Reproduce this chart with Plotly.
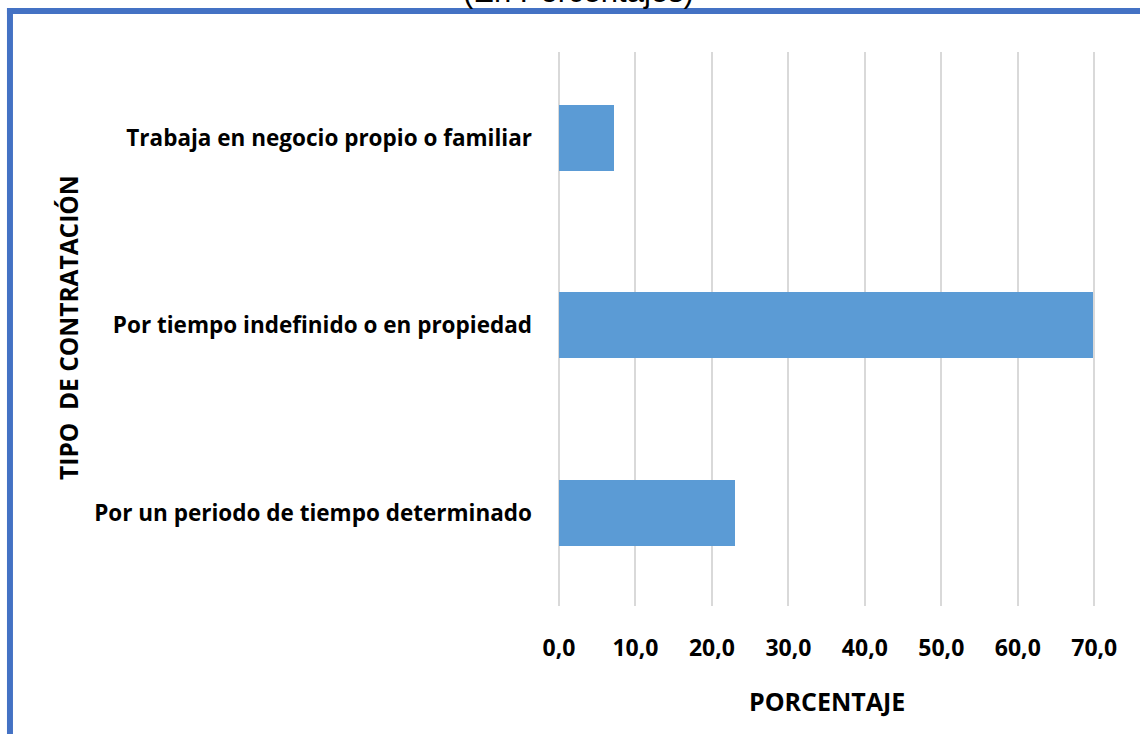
import plotly.graph_objects as go

# Tipo de contratación (porcentajes)
categorias = [
    "Por un periodo de tiempo determinado",
    "Por tiempo indefinido o en propiedad",
    "Trabaja en negocio propio o familiar",
]
porcentajes = [23.0, 69.8, 7.2]
x_ticks = [0, 10, 20, 30, 40, 50, 60, 70]

W, H = 1140, 734
L, R, T, B = 558.5, 0, 52, 128
pw, ph = W - L - R, H - T - B


def px_x(p):
    return (p - L) / pw


def px_y(q):
    return (H - B - q) / ph


BLUE_BORDER = "#4472C4"
BAR = "#5B9BD5"
GRID = "#D9D9D9"
FONT = "Open Sans"

fig = go.Figure(
    go.Bar(
        y=categorias,
        x=porcentajes,
        orientation="h",
        marker=dict(color=BAR, line=dict(width=0)),
        width=0.352,
    )
)

fig.update_layout(
    width=W,
    height=H,
    margin=dict(l=L, r=R, t=T, b=B),
    paper_bgcolor="white",
    plot_bgcolor="white",
    separators=",.",
    showlegend=False,
    bargap=0,
    xaxis=dict(
        range=[0, (W - L) / 7.653],
        tickvals=x_ticks,
        tickformat=".1f",
        showgrid=True,
        gridcolor=GRID,
        gridwidth=2,
        zeroline=True,
        zerolinecolor=GRID,
        zerolinewidth=2,
        showline=False,
        ticks="",
        ticklabelstandoff=26,
        tickfont=dict(family=FONT, size=23, color="black", weight="bold"),
    ),
    yaxis=dict(
        type="category",
        range=[-0.497, 2.459],
        showgrid=False,
        zeroline=False,
        showline=False,
        ticks="",
        ticklabelstandoff=26,
        tickfont=dict(family=FONT, size=22.5, color="black", weight="bold"),
    ),
    shapes=[
        # marco azul superior e izquierdo
        dict(type="rect", xref="paper", yref="paper",
             x0=px_x(6), x1=px_x(W + 5), y0=px_y(14), y1=px_y(8),
             fillcolor=BLUE_BORDER, line=dict(width=0), layer="above"),
        dict(type="rect", xref="paper", yref="paper",
             x0=px_x(6), x1=px_x(12), y0=px_y(H + 5), y1=px_y(8),
             fillcolor=BLUE_BORDER, line=dict(width=0), layer="above"),
    ],
    annotations=[
        dict(text="(En Porcentajes)", xref="paper", yref="paper",
             x=px_x(578), y=px_y(9), xanchor="center", yanchor="bottom",
             yshift=-2, showarrow=False,
             font=dict(family="Liberation Sans", size=31, color="black")),
        dict(text="PORCENTAJE", xref="paper", yref="paper",
             x=px_x(827), y=px_y(701), xanchor="center", yanchor="middle",
             showarrow=False,
             font=dict(family=FONT, size=25, color="black", weight="bold")),
        dict(text="TIPO\u00a0 DE CONTRATACIÓN", xref="paper", yref="paper",
             x=px_x(67), y=px_y(327), xanchor="center", yanchor="middle",
             textangle=-90, showarrow=False,
             font=dict(family=FONT, size=24.5, color="black", weight="bold")),
    ],
)

fig.write_html("out.html")
